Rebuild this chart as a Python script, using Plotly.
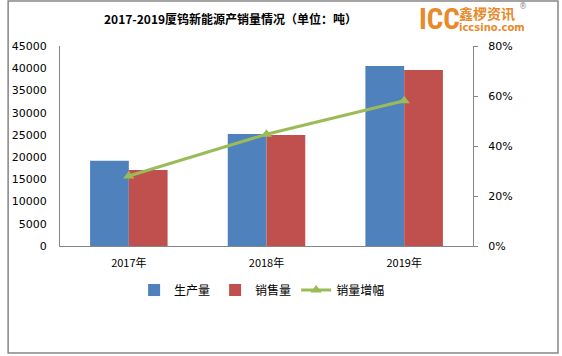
import plotly.graph_objects as go

years = ["2017年", "2018年", "2019年"]
production = [19200, 25200, 40500]
sales = [17100, 25000, 39600]
growth = [0.28, 0.447, 0.581]

left_ticks = [0, 5000, 10000, 15000, 20000, 25000, 30000, 35000, 40000, 45000]
left_tick_text = ["0", "5000", "10000", "15000", "20000", "25000", "30000", "35000", "40000", "45000"]
right_ticks = [0, 0.2, 0.4, 0.6, 0.8]
right_tick_text = ["0%", "20%", "40%", "60%", "80%"]

num_font = dict(family="DejaVu Sans, Verdana, sans-serif", size=11, color="#000000")
cjk = "Noto Sans CJK SC, sans-serif"

fig = go.Figure()
fig.add_trace(go.Bar(x=years, y=production, name="生产量", marker=dict(color="#4F81BD", line=dict(width=0))))
fig.add_trace(go.Bar(x=years, y=sales, name="销售量", marker=dict(color="#C0504D", line=dict(width=0))))
fig.add_trace(go.Scatter(x=years, y=growth, name="销量增幅", yaxis="y2", mode="lines+markers",
                         line=dict(color="#9BBB59", width=3),
                         marker=dict(symbol="triangle-up", size=10, color="#9BBB59")))

W, H = 562, 356
L, R, T, B = 55, 89, 46, 110
pw, ph = W - L - R, H - T - B

def px_x(x):
    return (x - L) / pw

def px_y(y):
    return (H - B - y) / ph

fig.update_layout(
    width=W, height=H,
    margin=dict(l=L, r=R, t=T, b=B),
    paper_bgcolor="white", plot_bgcolor="white",
    barmode="group", bargap=0.437, bargroupgap=0,
    showlegend=True,
    legend=dict(orientation="h", x=px_x(130), y=px_y(290), xanchor="left", yanchor="middle",
                font=dict(family=cjk, size=12, color="#000000"), bgcolor="rgba(0,0,0,0)",
                traceorder="normal", itemwidth=30),
    xaxis=dict(showline=True, linecolor="#868686", linewidth=1, ticks="", showgrid=False,
               tickfont=dict(family=cjk, size=11, color="#000000"), zeroline=False,
               ticklabelstandoff=7),
    yaxis=dict(range=[0, 45000], tickvals=left_ticks, ticktext=left_tick_text, showline=True,
               linecolor="#868686", linewidth=1,
               showgrid=False, zeroline=False, ticks="", tickfont=num_font, ticklabelstandoff=10),
    yaxis2=dict(range=[0, 0.8], tickvals=right_ticks, ticktext=right_tick_text, overlaying="y", side="right",
                showline=True, linecolor="#868686", linewidth=1, showgrid=False, zeroline=False,
                ticks="outside", ticklen=4, tickcolor="#868686", tickfont=num_font, ticklabelstandoff=8),
)

fig.add_annotation(text="<b>2017-2019厦钨新能源产销量情况（单位：吨）</b>", xref="paper", yref="paper",
                   x=px_x(228), y=px_y(18), xanchor="center", yanchor="middle", showarrow=False,
                   font=dict(family=cjk, size=12, color="#000000"))

# logo
fig.add_annotation(text="<b>ICC</b>", xref="paper", yref="paper", x=px_x(416), y=px_y(19),
                   xanchor="left", yanchor="middle", showarrow=False,
                   font=dict(family="Liberation Sans Narrow, Roboto Condensed, sans-serif", size=29, color="#E8892B"))
fig.add_annotation(text="<b>鑫椤资讯</b>", xref="paper", yref="paper", x=px_x(457), y=px_y(13),
                   xanchor="left", yanchor="middle", showarrow=False,
                   font=dict(family=cjk, size=14, color="#E8892B"))
fig.add_annotation(text="<b>iccsino.com</b>", xref="paper", yref="paper", x=px_x(457), y=px_y(28),
                   xanchor="left", yanchor="middle", showarrow=False,
                   font=dict(family="DejaVu Sans, sans-serif", size=10, color="#E8892B"))
fig.add_annotation(text="®", xref="paper", yref="paper", x=px_x(518), y=px_y(6),
                   xanchor="left", yanchor="middle", showarrow=False,
                   font=dict(family="DejaVu Sans, sans-serif", size=8, color="#888888"))

# outer border
fig.add_shape(type="rect", xref="paper", yref="paper", x0=px_x(2.5), x1=px_x(559), y0=px_y(353), y1=px_y(1),
              line=dict(color="#868686", width=1.5), fillcolor="rgba(0,0,0,0)", layer="below")

fig.write_html("out.html", config={"displayModeBar": False},
               post_script="document.body.style.margin='0';document.body.style.overflow='hidden';")
